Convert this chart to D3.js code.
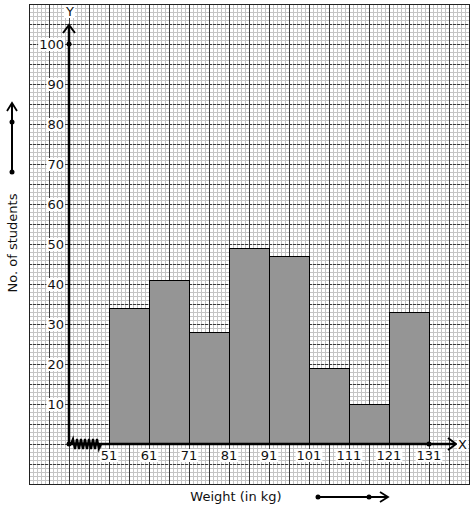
<!DOCTYPE html>
<html><head><meta charset="utf-8">
<script src="https://cdn.jsdelivr.net/npm/d3@7"></script>
<style>body{margin:0;background:#fff}svg{display:block}text{font-family:"DejaVu Sans",sans-serif}</style>
</head><body>
<script>
const binStarts = [51, 61, 71, 81, 91, 101, 111, 121];
const binEnds   = [61, 71, 81, 91, 101, 111, 121, 131];
const students  = [34, 41, 28, 49, 47, 19, 10, 33];
const xTicks = [51, 61, 71, 81, 91, 101, 111, 121, 131];
const yTicks = [10, 20, 30, 40, 50, 60, 70, 80, 90, 100];

const W = 474, H = 510;
const svg = d3.select("body").append("svg").attr("width", W).attr("height", H);
const x = d3.scaleLinear().domain([41, 131]).range([69, 429]);
const y = d3.scaleLinear().domain([0, 100]).range([444, 44]);

// graph paper
const gx0 = x(31), gx1 = x(141), gy0 = y(110), gy1 = y(-10);
const g = svg.append("g").attr("shape-rendering", "crispEdges");
g.append("rect").attr("x", gx0).attr("y", gy0).attr("width", gx1 - gx0).attr("height", gy1 - gy0).attr("fill", "#fff");
const fineX = d3.range(31, 141.01, 1), fineY = d3.range(-10, 110.01, 1);
g.selectAll(".fv").data(fineX).join("line").attr("x1", d => x(d)+0.5).attr("x2", d => x(d)+0.5)
  .attr("y1", gy0).attr("y2", gy1).attr("stroke", "#c4c4c4").attr("stroke-width", 1);
g.selectAll(".fh").data(fineY).join("line").attr("y1", d => y(d)+0.5).attr("y2", d => y(d)+0.5)
  .attr("x1", gx0).attr("x2", gx1).attr("stroke", "#c4c4c4").attr("stroke-width", 1);
const majX = d3.range(31, 141.01, 5), majY = d3.range(-10, 110.01, 5);
g.selectAll(".mv").data(majX).join("line").attr("x1", d => x(d)+0.5).attr("x2", d => x(d)+0.5)
  .attr("y1", gy0).attr("y2", gy1).attr("stroke", "#3a3a3a").attr("stroke-width", 1);
g.selectAll(".mh").data(majY).join("line").attr("y1", d => y(d)+0.5).attr("y2", d => y(d)+0.5)
  .attr("x1", gx0).attr("x2", gx1).attr("stroke", "#3a3a3a").attr("stroke-width", 1).attr("stroke-dasharray", "3,1");
g.append("rect").attr("x", gx0+0.5).attr("y", gy0+0.5).attr("width", gx1 - gx0).attr("height", gy1 - gy0)
  .attr("fill", "none").attr("stroke", "#222");

// bars
svg.append("g").selectAll("rect").data(students).join("rect")
  .attr("x", (d, i) => x(binStarts[i]) + 0.5).attr("width", (d, i) => x(binEnds[i]) - x(binStarts[i]))
  .attr("y", d => y(d) + 0.5).attr("height", d => y(0) - y(d))
  .attr("fill", "#959595").attr("stroke", "#000").attr("stroke-width", 1);

// axes
const ax = svg.append("g");
ax.append("line").attr("x1", x(41)).attr("x2", x(131) + 26).attr("y1", y(0)).attr("y2", y(0)).attr("stroke", "#000").attr("stroke-width", 2.5);
ax.append("line").attr("x1", x(41)).attr("x2", x(41)).attr("y1", y(0)).attr("y2", y(100) - 18).attr("stroke", "#000").attr("stroke-width", 2.5);
ax.append("path").attr("d", `M${x(131)+19},${y(0)-6}L${x(131)+27},${y(0)}L${x(131)+19},${y(0)+6}`).attr("fill", "none").attr("stroke", "#000").attr("stroke-width", 2);
ax.append("path").attr("d", `M${x(41)-6},${y(100)-11}L${x(41)},${y(100)-19}L${x(41)+6},${y(100)-11}`).attr("fill", "none").attr("stroke", "#000").attr("stroke-width", 2);
ax.append("circle").attr("cx", x(41)).attr("cy", y(0)).attr("r", 2.5);
ax.append("circle").attr("cx", x(131)).attr("cy", y(0)).attr("r", 2.5);
ax.append("circle").attr("cx", x(41)).attr("cy", y(100)).attr("r", 2.5);
// zigzag break
let zz = `M${x(41)+2},${y(0)}`;
for (let i = 0; i < 7; i++) { const xx = x(41) + 4 + i * 4; zz += `L${xx},${y(0) - 5}L${xx + 2},${y(0) + 5}`; }
zz += `L${x(49)},${y(0)}`;
ax.append("path").attr("d", zz).attr("fill", "none").attr("stroke", "#000").attr("stroke-width", 2.2);

function label(sel, t, tx, ty, anchor) {
  const tt = sel.append("text").attr("x", tx).attr("y", ty).attr("text-anchor", anchor).attr("font-size", 13).attr("fill", "#111").text(t);
  const b = tt.node().getBBox();
  sel.insert("rect", () => tt.node()).attr("x", b.x - 1).attr("y", b.y + 1).attr("width", b.width + 2).attr("height", b.height - 2).attr("fill", "#fff");
}
const lab = svg.append("g");
yTicks.forEach(v => label(lab, String(v), x(41) - 5, y(v) + 5, "end"));
xTicks.forEach(v => label(lab, String(v), x(v), y(0) + 16, "middle"));
label(lab, "Y", x(41) + 1, 16, "middle");
label(lab, "X", x(131) + 29, y(0) + 5, "start");

// axis titles
svg.append("text").attr("transform", "translate(17,243) rotate(-90)").attr("text-anchor", "middle").attr("font-size", 13).attr("fill", "#111").text("No. of students");
svg.append("text").attr("x", 236).attr("y", 501).attr("text-anchor", "middle").attr("font-size", 13).attr("fill", "#111").text("Weight (in kg)");
// direction arrows
const da = svg.append("g");
da.append("line").attr("x1", 12).attr("x2", 12).attr("y1", 172).attr("y2", 104).attr("stroke", "#000").attr("stroke-width", 2);
da.append("path").attr("d", "M7,111L12,103L17,111").attr("fill", "none").attr("stroke", "#000").attr("stroke-width", 1.8);
da.append("circle").attr("cx", 12).attr("cy", 172).attr("r", 2.5);
da.append("circle").attr("cx", 12).attr("cy", 122).attr("r", 2.5);
da.append("line").attr("x1", 318).attr("x2", 387).attr("y1", 497).attr("y2", 497).attr("stroke", "#000").attr("stroke-width", 2);
da.append("path").attr("d", "M380,492L388,497L380,502").attr("fill", "none").attr("stroke", "#000").attr("stroke-width", 1.8);
da.append("circle").attr("cx", 318).attr("cy", 497).attr("r", 2.5);
da.append("circle").attr("cx", 369).attr("cy", 497).attr("r", 2.5);
</script>
</body></html>
